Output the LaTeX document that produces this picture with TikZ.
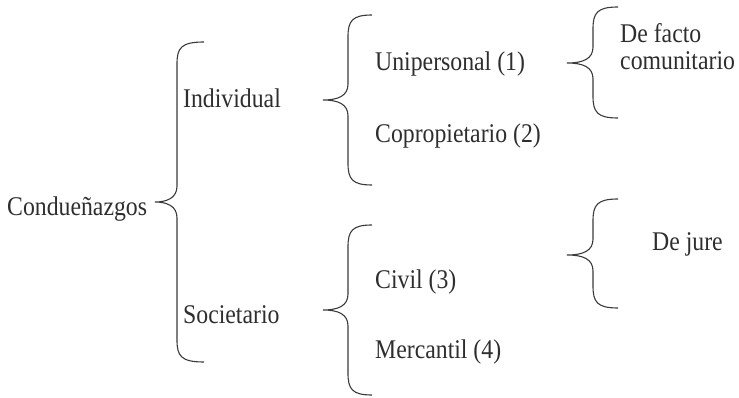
\documentclass[tikz,border=0pt]{standalone}
\usepackage{fontspec}
\setmainfont{Liberation Serif}[FakeStretch=0.88]
\definecolor{ink}{HTML}{2E2E2E}
\definecolor{brc}{HTML}{3A3A3A}
\newcommand\cbr[6]{% #1 tip x, #2 spine x, #3 end x, #4 top y, #5 mid y, #6 bottom y
\draw[brc,line width=1.1pt] (#3,#4) .. controls (#2+4,#4) and (#2,#4+6) .. (#2,#4+22)
  -- (#2,#5-16) .. controls (#2,#5-4) and (#2-10,#5) .. (#1,#5)
  .. controls (#2-10,#5) and (#2,#5+4) .. (#2,#5+16)
  -- (#2,#6-22) .. controls (#2,#6-6) and (#2+4,#6) .. (#3,#6);}
\tikzset{lbl/.style={anchor=base west,inner sep=0pt,text=ink,font=\fontsize{27}{30}\selectfont}}
\begin{document}
\begin{tikzpicture}[x=1pt,y=-1pt]
\useasboundingbox (0,0) rectangle (739,398);
\node[lbl] (cond) at (7,216) {Condueñazgos};
\node[lbl] (ind) at (183,108) {Individual};
\node[lbl] (soc) at (183,323) {Societario};
\node[lbl] (uni) at (375,71) {Unipersonal (1)};
\node[lbl] (cop) at (375,143) {Copropietario (2)};
\node[lbl] (civ) at (375,288) {Civil (3)};
\node[lbl] (mer) at (375,358) {Mercantil (4)};
\node[lbl] (dfa) at (620,43) {De facto};
\node[lbl] (com) at (620,70) {comunitario};
\node[lbl] (dju) at (652,251) {De jure};
\cbr{155}{177}{204}{42}{202}{362}
\cbr{323}{348}{372}{15}{100}{185}
\cbr{323}{348}{372}{225}{310}{395}
\cbr{567}{593}{618}{7}{63}{118}
\cbr{567}{593}{618}{199}{255}{308}
\end{tikzpicture}
\end{document}
